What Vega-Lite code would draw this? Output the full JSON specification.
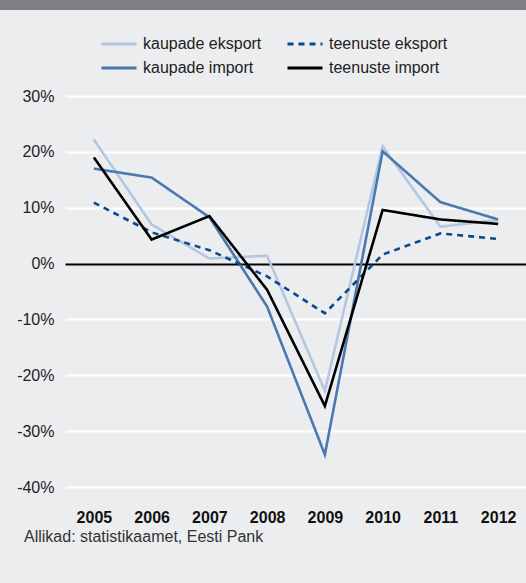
{
  "$schema": "https://vega.github.io/schema/vega-lite/v6.json",
  "background": "#ecedef",
  "padding": {"left": 0, "top": 0, "right": 0, "bottom": 46},
  "spacing": 78,
  "config": {"view": {"stroke": null}, "font": "Liberation Sans"},
  "vconcat": [
    {
      "width": 526,
      "height": 10,
      "view": {"fill": "#7f7e83", "stroke": null},
      "data": {"values": []},
      "mark": {"type": "rect"},
      "encoding": {}
    },
    {
      "spacing": 0,
      "hconcat": [
        {
          "width": 1,
          "height": 391,
          "data": {"values": []},
          "mark": {"type": "rect"},
          "encoding": {}
        },
        {
          "width": 462,
          "height": 391,
          "title": {
            "text": "Allikad: statistikaamet, Eesti Pank",
            "orient": "bottom",
            "anchor": "start",
            "frame": "group",
            "dx": -41,
            "offset": 4,
            "fontSize": 16,
            "fontWeight": "normal",
            "color": "#333333"
          },
          "data": {
            "values": [
              {"year": "2005", "series": "kaupade eksport", "value": 22.2},
              {"year": "2006", "series": "kaupade eksport", "value": 7.0},
              {"year": "2007", "series": "kaupade eksport", "value": 0.9},
              {"year": "2008", "series": "kaupade eksport", "value": 1.4},
              {"year": "2009", "series": "kaupade eksport", "value": -22.8},
              {"year": "2010", "series": "kaupade eksport", "value": 21.0},
              {"year": "2011", "series": "kaupade eksport", "value": 6.6},
              {"year": "2012", "series": "kaupade eksport", "value": 7.8},
              {"year": "2005", "series": "kaupade import", "value": 17.0},
              {"year": "2006", "series": "kaupade import", "value": 15.4},
              {"year": "2007", "series": "kaupade import", "value": 8.3},
              {"year": "2008", "series": "kaupade import", "value": -7.7},
              {"year": "2009", "series": "kaupade import", "value": -34.2},
              {"year": "2010", "series": "kaupade import", "value": 20.1},
              {"year": "2011", "series": "kaupade import", "value": 11.0},
              {"year": "2012", "series": "kaupade import", "value": 7.9},
              {"year": "2005", "series": "teenuste eksport", "value": 10.9},
              {"year": "2006", "series": "teenuste eksport", "value": 5.6},
              {"year": "2007", "series": "teenuste eksport", "value": 2.4},
              {"year": "2008", "series": "teenuste eksport", "value": -2.3},
              {"year": "2009", "series": "teenuste eksport", "value": -8.9},
              {"year": "2010", "series": "teenuste eksport", "value": 1.6},
              {"year": "2011", "series": "teenuste eksport", "value": 5.4},
              {"year": "2012", "series": "teenuste eksport", "value": 4.4},
              {"year": "2005", "series": "teenuste import", "value": 19.0},
              {"year": "2006", "series": "teenuste import", "value": 4.3},
              {"year": "2007", "series": "teenuste import", "value": 8.5},
              {"year": "2008", "series": "teenuste import", "value": -4.7},
              {"year": "2009", "series": "teenuste import", "value": -25.5},
              {"year": "2010", "series": "teenuste import", "value": 9.6},
              {"year": "2011", "series": "teenuste import", "value": 7.9},
              {"year": "2012", "series": "teenuste import", "value": 7.1}
            ]
          },
          "mark": {"type": "line", "strokeWidth": 2.6},
          "encoding": {
            "x": {
              "field": "year",
              "type": "ordinal",
              "scale": {"type": "point", "padding": 0.5},
              "axis": {
                "title": null,
                "domain": false,
                "ticks": false,
                "grid": false,
                "labelAngle": 0,
                "labelPadding": 22,
                "labelFontSize": 16,
                "labelFontWeight": "bold",
                "labelColor": "#111111"
              }
            },
            "y": {
              "field": "value",
              "type": "quantitative",
              "scale": {"domain": [-40, 30], "nice": false, "zero": false},
              "axis": {
                "title": null,
                "values": [-40, -30, -20, -10, 0, 10, 20, 30],
                "labelExpr": "datum.value + '%'",
                "domain": false,
                "ticks": false,
                "grid": true,
                "gridColor": {"condition": {"test": "datum.value === 0", "value": "#000000"}, "value": "#ffffff"},
                "gridWidth": 2,
                "gridOpacity": 1,
                "labelPadding": 11,
                "labelFontSize": 16,
                "labelColor": "#222222",
                "minExtent": 64,
                "maxExtent": 64
              }
            },
            "color": {
              "field": "series",
              "type": "nominal",
              "scale": {
                "domain": ["kaupade eksport", "kaupade import", "teenuste eksport", "teenuste import"],
                "range": ["#b3c8e0", "#4a79b0", "#0b4a91", "#000000"]
              },
              "legend": {
                "title": null,
                "orient": "none",
                "legendX": 100,
                "legendY": 36,
                "columns": 2,
                "columnPadding": 24,
                "rowPadding": 8,
                "clipHeight": 16,
                "padding": 0,
                "labelFontSize": 16,
                "labelOffset": 5,
                "labelColor": "#222222",
                "symbolType": "stroke",
                "symbolSize": 1225,
                "symbolStrokeWidth": 3
              }
            },
            "strokeDash": {
              "field": "series",
              "type": "nominal",
              "scale": {
                "domain": ["kaupade eksport", "kaupade import", "teenuste eksport", "teenuste import"],
                "range": [[1, 0], [1, 0], [6, 5], [1, 0]]
              },
              "legend": {
                "title": null,
                "orient": "none",
                "legendX": 100,
                "legendY": 36,
                "columns": 2,
                "columnPadding": 24,
                "rowPadding": 8,
                "clipHeight": 16,
                "padding": 0,
                "labelFontSize": 16,
                "labelOffset": 5,
                "labelColor": "#222222",
                "symbolType": "stroke",
                "symbolSize": 1225,
                "symbolStrokeWidth": 3
              }
            }
          }
        }
      ]
    }
  ]
}
